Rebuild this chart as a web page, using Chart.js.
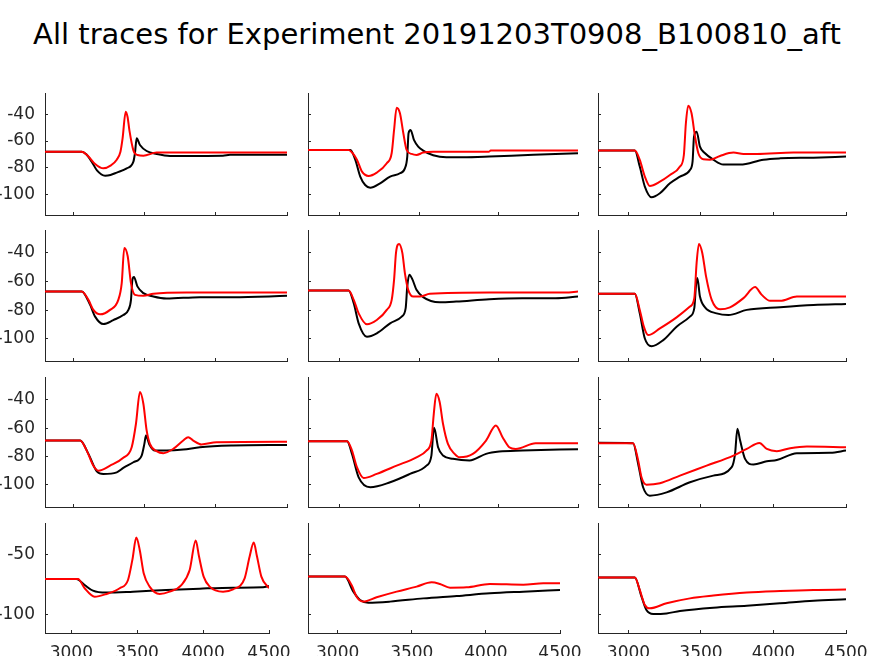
<!DOCTYPE html>
<html>
<head>
<meta charset="utf-8">
<script src="https://cdn.jsdelivr.net/npm/chart.js@4.4.1/dist/chart.umd.min.js"></script>
<style>
  html, body { margin:0; padding:0; background:#fff; }
  #wrap { position:relative; width:874px; height:656px; overflow:hidden; background:#fff; }
  #title { position:absolute; left:0; top:19px; width:874px; text-align:center;
           font-family:'DejaVu Sans', sans-serif; font-size:29px; line-height:30px; color:#000; white-space:nowrap; }
  canvas { position:absolute; }
</style>
</head>
<body>
<div id="wrap">
  <div id="title">All traces for Experiment 20191203T0908_B100810_aft</div>
</div>
<script>
// x ticks and y ticks
const xTicks = [3000, 3500, 4000, 4500];
const yTicks = [-100, -80, -60, -40];
const yTicksBottom = [-100, -50];
const yMin = -115.5, yMax = -24;

// traces [time, Vm], one pair per panel (row, col)
const black11 = [[2800,-68],[3058,-68],[3090,-70],[3128,-75.5],[3165,-82],[3222,-86],[3260,-85.5],[3304,-83.7],[3374,-80.5],[3421,-75.5],[3432,-69],[3444,-58],[3467,-63],[3514,-67.5],[3584,-69.7],[3678,-71.2],[4050,-71],[4100,-70.3],[4500,-70.3]];
const red11 = [[2800,-68],[3058,-68],[3100,-71],[3150,-77],[3210,-80.5],[3260,-78.5],[3304,-74],[3330,-68],[3345,-58],[3367,-38],[3380,-42],[3393,-52],[3421,-67],[3450,-70.5],[3491,-71],[3584,-68.7],[4500,-68.7]];

const black12 = [[2800,-66.7],[3067,-66.7],[3098,-74.2],[3129,-86.7],[3160,-93],[3192,-95],[3254,-91.7],[3317,-86.7],[3379,-84.2],[3410,-80.5],[3425,-71.7],[3433,-54.2],[3446,-51.7],[3467,-59.2],[3494,-64.2],[3525,-67.2],[3588,-70.7],[3671,-72.2],[3775,-72.2],[3942,-71.7],[4150,-70.7],[4358,-69.7],[4500,-69.2]];
const red12 = [[2800,-66.7],[3056,-66.7],[3080,-69],[3108,-74],[3140,-83],[3181,-86.2],[3233,-83.7],[3296,-76.7],[3327,-69],[3342,-51.7],[3358,-35],[3379,-39.2],[3400,-54],[3421,-66.7],[3452,-69.7],[3483,-70.5],[3525,-68.7],[3588,-68],[3940,-68],[3950,-67.2],[4500,-67.2]];

const black13 = [[2790,-67.2],[3044,-67.2],[3078,-79.2],[3113,-94.2],[3159,-102.2],[3217,-99.2],[3286,-91.7],[3355,-86.7],[3424,-81.7],[3442,-75.5],[3452,-56.7],[3470,-53],[3493,-64.2],[3528,-69.2],[3585,-74],[3654,-77.7],[3770,-77.7],[3931,-74],[4046,-73],[4276,-72.5],[4500,-71.7]];
const red13 = [[2790,-67.2],[3044,-67.2],[3078,-74.2],[3113,-86.7],[3147,-93.7],[3217,-90.5],[3286,-85.5],[3355,-79.2],[3382,-70.5],[3396,-46.7],[3412,-33.5],[3435,-39.2],[3459,-56.7],[3482,-69.2],[3516,-73.7],[3562,-74],[3631,-71.2],[3724,-68.7],[3793,-69.7],[3885,-69.7],[4138,-68.7],[4500,-68.7]];

const black21 = [[2800,-67],[3058,-67],[3117,-76.3],[3152,-84.5],[3210,-89.7],[3280,-86.9],[3350,-83.4],[3386,-79.8],[3404,-72.8],[3414,-58.7],[3425,-56.9],[3449,-63.4],[3491,-68.1],[3561,-70.5],[3654,-71.9],[3888,-70.9],[4121,-70.9],[4500,-70]];
const red21 = [[2800,-67],[3058,-67],[3105,-72.8],[3140,-79.8],[3187,-82.9],[3257,-79.8],[3315,-72.8],[3339,-61.1],[3357,-36.5],[3381,-42.3],[3404,-61.1],[3432,-69.3],[3491,-70],[3561,-68.6],[3794,-67.7],[4500,-67.7]];

const black22 = [[2800,-66.2],[3056,-66.2],[3088,-75.2],[3119,-89.2],[3171,-98.6],[3233,-96.2],[3317,-89.2],[3390,-84.5],[3415,-78.6],[3425,-63.4],[3438,-55.2],[3458,-58.7],[3483,-65.8],[3525,-70.9],[3629,-74.5],[3733,-74],[3942,-72.3],[4150,-71.6],[4358,-71.6],[4500,-70.5]];
const red22 = [[2800,-66.2],[3056,-66.2],[3088,-72.8],[3119,-82.2],[3171,-89.9],[3233,-86.9],[3296,-79.8],[3327,-72.8],[3342,-58.7],[3354,-40],[3373,-33.7],[3394,-40],[3410,-54.1],[3431,-65.8],[3463,-70.5],[3504,-70.5],[3567,-68.6],[3942,-67.7],[4421,-67.7],[4500,-67]];

const black23 = [[2790,-68.6],[3044,-68.6],[3078,-82.2],[3113,-99.8],[3159,-105.2],[3240,-100.9],[3332,-91.5],[3424,-84.5],[3454,-78.6],[3465,-63.4],[3475,-57.6],[3493,-70.5],[3528,-78],[3608,-82.2],[3689,-83.4],[3816,-79.8],[4046,-77.9],[4276,-76.4],[4500,-75.7]];
const red23 = [[2790,-68.6],[3044,-68.6],[3078,-79.8],[3106,-91.5],[3136,-97.4],[3217,-92.7],[3332,-85],[3424,-77.5],[3454,-71.7],[3470,-47],[3486,-33.7],[3509,-40],[3535,-56.4],[3574,-72.8],[3631,-79.4],[3700,-78],[3793,-71.6],[3873,-63.9],[3919,-69.3],[3977,-73.5],[4046,-73.5],[4161,-70.5],[4500,-70.5]];

const black31 = [[2800,-68.7],[3047,-68.7],[3105,-78.1],[3164,-90.4],[3210,-92.2],[3304,-91.1],[3350,-88],[3421,-84],[3479,-79.3],[3498,-71.1],[3509,-65.2],[3533,-71.5],[3572,-75.8],[3654,-75.8],[3771,-75.1],[3888,-73.4],[4121,-72.2],[4500,-71.8]];
const red31 = [[2800,-68.7],[3047,-68.7],[3093,-75.8],[3140,-86.4],[3175,-89.9],[3257,-86.4],[3350,-80.9],[3409,-73.4],[3439,-56.9],[3467,-34.6],[3491,-42.8],[3514,-61.6],[3537,-71.1],[3584,-76.2],[3631,-77.6],[3701,-74.6],[3771,-68.7],[3806,-66.4],[3841,-68.7],[3899,-71.5],[4005,-69.9],[4500,-69.6]];

const black32 = [[2800,-69.2],[3046,-69.2],[3077,-78.1],[3119,-94.6],[3192,-101.6],[3317,-98.1],[3442,-92.2],[3546,-86.4],[3577,-79.3],[3588,-64],[3594,-59.8],[3619,-73.4],[3650,-79.3],[3713,-81.6],[3817,-82.8],[3921,-78.1],[4004,-76.5],[4150,-75.8],[4500,-74.8]];
const red32 = [[2800,-69.2],[3046,-69.2],[3077,-75.8],[3108,-87.5],[3150,-95.1],[3233,-92.2],[3358,-86.4],[3483,-80.5],[3546,-75.8],[3577,-68.7],[3592,-49.9],[3608,-35.8],[3629,-41.6],[3650,-56.9],[3681,-71.1],[3723,-78.1],[3754,-80.5],[3838,-78.1],[3921,-68.7],[3983,-58.1],[4025,-66.4],[4067,-73.4],[4108,-74.6],[4233,-70.6],[4500,-70.6]];

const black33 = [[2790,-70.3],[3032,-70.6],[3067,-85.2],[3101,-101.6],[3147,-107.5],[3263,-105.2],[3424,-98.1],[3585,-93.4],[3712,-87.5],[3735,-78.1],[3751,-60.5],[3770,-68.7],[3804,-81.6],[3862,-85.6],[3954,-83.3],[4023,-82.4],[4161,-77.6],[4392,-77.4],[4500,-75.8]];
const red33 = [[2790,-70.6],[3032,-70.6],[3067,-82.8],[3090,-94.6],[3124,-99.8],[3217,-98.8],[3355,-93.4],[3539,-86.4],[3724,-79.3],[3816,-74.6],[3903,-70.4],[3954,-74.6],[4023,-76.2],[4115,-74.1],[4230,-72.9],[4500,-73.4]];

const black41 = [[2800,-70.6],[3038,-70.6],[3101,-75.6],[3164,-80.3],[3266,-81.9],[3468,-81.1],[3721,-79.7],[3974,-78.6],[4227,-77.8],[4455,-77.5],[4500,-76.4]];
const red41 = [[2800,-70.6],[3051,-70.6],[3101,-78.3],[3177,-85.3],[3266,-83],[3367,-78.3],[3430,-71.4],[3463,-54.7],[3493,-36.1],[3519,-46.4],[3549,-65.8],[3594,-76.9],[3670,-83],[3746,-81.1],[3835,-75.6],[3898,-63.1],[3944,-38.6],[3969,-51.9],[4004,-68.6],[4050,-76.9],[4151,-81.1],[4227,-79.2],[4315,-70],[4353,-51.9],[4384,-40.3],[4409,-51.9],[4442,-68.6],[4500,-78.3]];

const black42 = [[2800,-68.6],[3049,-68.6],[3106,-81.1],[3151,-88.1],[3207,-90.3],[3353,-89.4],[3578,-86.7],[3803,-84.7],[4027,-82.5],[4252,-81.1],[4500,-79.7]];
const red42 = [[2800,-68.6],[3049,-68.6],[3094,-75.6],[3128,-85.3],[3173,-89.4],[3263,-85.8],[3398,-81.1],[3533,-76.9],[3634,-73.3],[3690,-74.7],[3758,-77.8],[3870,-77.5],[4027,-74.7],[4252,-75.3],[4387,-74.2],[4500,-74.2]];

const black43 = [[2790,-69.4],[3044,-69.4],[3090,-85.3],[3124,-96.4],[3171,-99.7],[3263,-99.2],[3355,-97.2],[3585,-94.4],[3816,-92.8],[4046,-90.8],[4276,-88.6],[4500,-87.5]];
const red43 = [[2790,-69.4],[3044,-69.4],[3078,-79.7],[3113,-92.2],[3147,-95],[3263,-90.8],[3424,-86.7],[3585,-84.4],[3816,-81.9],[4046,-80.6],[4276,-79.7],[4500,-79.4]];

// panel boxes (plot area) in page pixels
const panels = [
  { black:black11, red:red11, x0:2800, box:[45, 93, 287, 215],  row:0, col:0 },
  { black:black12, red:red12, x0:2800, box:[308, 93, 578, 215], row:0, col:1 },
  { black:black13, red:red13, x0:2790, box:[598, 93, 846, 215], row:0, col:2 },
  { black:black21, red:red21, x0:2800, box:[45, 230, 287, 361], row:1, col:0 },
  { black:black22, red:red22, x0:2800, box:[308, 230, 578, 361], row:1, col:1 },
  { black:black23, red:red23, x0:2790, box:[598, 230, 846, 361], row:1, col:2 },
  { black:black31, red:red31, x0:2800, box:[45, 377, 287, 507], row:2, col:0 },
  { black:black32, red:red32, x0:2800, box:[308, 377, 578, 507], row:2, col:1 },
  { black:black33, red:red33, x0:2790, box:[598, 377, 846, 507], row:2, col:2 },
  { black:black41, red:red41, x0:2800, box:[45, 523, 269, 633], row:3, col:0 },
  { black:black42, red:red42, x0:2800, box:[308, 523, 560, 633], row:3, col:1 },
  { black:black43, red:red43, x0:2790, box:[598, 523, 846, 633], row:3, col:2 }
];

const AXIS = '#262626';
const FONT = { family:'DejaVu Sans', size:17 };
const LEFT = 45, PADT = 4, PADR = 30;

const wrap = document.getElementById('wrap');
panels.forEach(p => {
  const [l, t, r, b] = p.box;
  const bottomRow = p.row === 3;
  const below = bottomRow ? 656 - b : 4;
  const cv = document.createElement('canvas');
  const w = (r - l) + LEFT + PADR, h = (b - t) + PADT + below;
  cv.width = w; cv.height = h;
  cv.style.left = (l - LEFT) + 'px';
  cv.style.top = (t - PADT) + 'px';
  cv.style.width = w + 'px'; cv.style.height = h + 'px';
  wrap.appendChild(cv);

  const yt = bottomRow ? yTicksBottom : yTicks;
  new Chart(cv.getContext('2d'), {
    type: 'line',
    data: {
      datasets: [
        { data:p.black, borderColor:'#000000', borderWidth:2, pointRadius:0, cubicInterpolationMode:'monotone', order:1 },
        { data:p.red, borderColor:'#ff0000', borderWidth:2, pointRadius:0, cubicInterpolationMode:'monotone', order:0 }
      ]
    },
    options: {
      responsive:false, animation:false, devicePixelRatio:1,
      layout:{ padding:{ top:PADT, right:PADR, left:0, bottom:0 } },
      plugins:{ legend:{ display:false }, tooltip:{ enabled:false } },
      scales: {
        x: {
          type:'linear', min:p.x0, max:4500,
          afterBuildTicks: s => { s.ticks = xTicks.map(v => ({ value:v })); },
          afterFit: s => { s.height = below; s.paddingLeft = 0; s.paddingRight = 0; },
          grid:{ drawOnChartArea:false, tickLength:-3, color:AXIS },
          border:{ color:AXIS, width:1 },
          ticks:{ display:bottomRow, padding:13, color:AXIS, font:FONT, maxRotation:0, autoSkip:false,
                  callback: v => String(v) }
        },
        y: {
          type:'linear', min:yMin, max:yMax,
          afterBuildTicks: s => { s.ticks = yt.map(v => ({ value:v })); },
          afterFit: s => { s.width = LEFT; s.paddingTop = 0; s.paddingBottom = 0; },
          grid:{ drawOnChartArea:false, tickLength:-3, color:AXIS },
          border:{ color:AXIS, width:1 },
          ticks:{ display:p.col === 0, padding:13, color:AXIS, font:FONT, autoSkip:false,
                  callback: v => String(v) }
        }
      }
    }
  });
});
</script>
</body>
</html>
